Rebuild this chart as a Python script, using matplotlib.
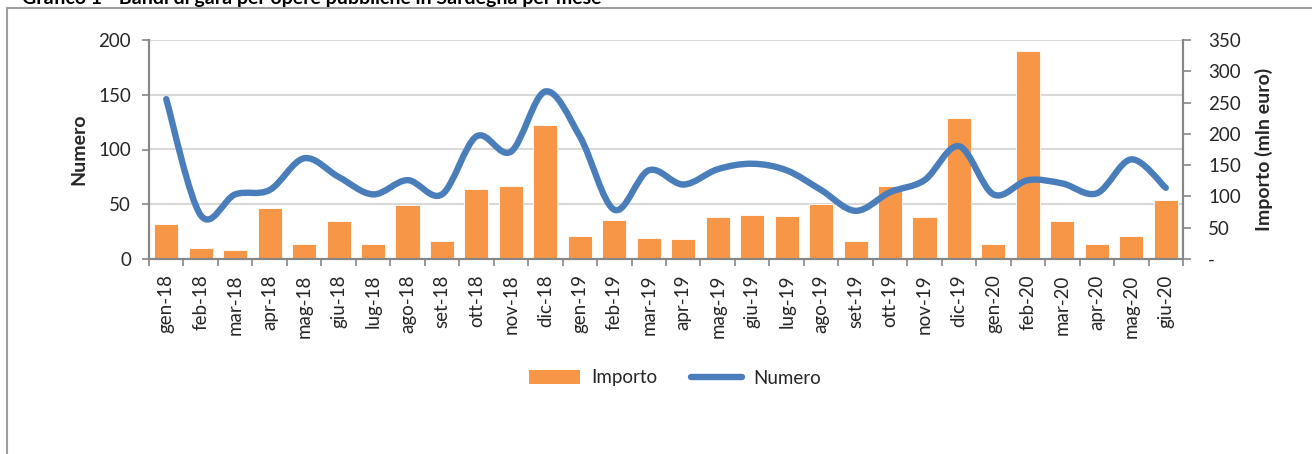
import matplotlib
matplotlib.use("Agg")
import matplotlib.pyplot as plt
from matplotlib.path import Path
from matplotlib.patches import PathPatch, Rectangle
from matplotlib.lines import Line2D
import numpy as np

plt.rcParams['font.family'] = ['Lato', 'DejaVu Sans']

months = ["gen-18", "feb-18", "mar-18", "apr-18", "mag-18", "giu-18", "lug-18", "ago-18",
          "set-18", "ott-18", "nov-18", "dic-18", "gen-19", "feb-19", "mar-19", "apr-19",
          "mag-19", "giu-19", "lug-19", "ago-19", "set-19", "ott-19", "nov-19", "dic-19",
          "gen-20", "feb-20", "mar-20", "apr-20", "mag-20", "giu-20"]
importo = [56, 18, 14, 81, 24, 61, 24, 86, 28, 112, 116, 214,
           36, 63, 34, 32, 67, 71, 69, 88, 28, 116, 67, 225,
           24, 333, 61, 24, 36, 94]
numero = [146, 40, 59, 63, 92, 75, 59, 72, 59, 112, 98, 153,
          112, 45, 81, 68, 82, 87, 81, 63, 44, 61, 72, 103,
          59, 72, 69, 60, 91, 65]
left_ticks = [0, 50, 100, 150, 200]
right_ticks = [0, 50, 100, 150, 200, 250, 300, 350]
right_labels = ["-", "50", "100", "150", "200", "250", "300", "350"]

ORANGE = "#F79646"
BLUE = "#4A7EBB"
GRID = "#D9D9D9"
AX = "#868686"
TXT = "#262626"

fig = plt.figure(figsize=(13.12, 4.54), dpi=100)
ax = fig.add_axes([149/1312, 1-259/454, (1183-149)/1312, (259-40)/454])
ax2 = ax.twinx()

x = np.arange(len(months))

# bars (right axis)
ax2.set_ylim(0, 350)
for v in left_ticks[1:]:
    ax2.axhline(v * 350 / 200, color=GRID, lw=1.5, zorder=0)
ax2.bar(x, importo, width=0.7, color=ORANGE, edgecolor="white", linewidth=0.6, zorder=2)

# smooth line (left axis)
ax.set_ylim(0, 200)
ax.set_zorder(ax2.get_zorder() + 1)
ax.patch.set_visible(False)
pts = np.column_stack([x, numero]).astype(float)
verts = [pts[0]]
codes = [Path.MOVETO]
n = len(pts)
for i in range(n - 1):
    p0 = pts[i - 1] if i > 0 else pts[i]
    p1 = pts[i]
    p2 = pts[i + 1]
    p3 = pts[i + 2] if i + 2 < n else pts[i + 1]
    c1 = p1 + (p2 - p0) / 6.0
    c2 = p2 - (p3 - p1) / 6.0
    verts += [c1, c2, p2]
    codes += [Path.CURVE4] * 3
ax.add_patch(PathPatch(Path(verts, codes), fill=False, edgecolor=BLUE, lw=4.6,
                       capstyle='round', joinstyle='round', zorder=3))

ax.set_xlim(-0.5, len(months) - 0.5)

# x axis ticks
ax.set_xticks(x)
ax.set_xticklabels(months, rotation=90, fontsize=13.5, color=TXT)
ax.tick_params(axis='x', which='major', length=0, pad=11)
ax.set_xticks(np.arange(-0.5, len(months)), minor=True)
ax.tick_params(axis='x', which='minor', length=5, width=1.2, color=AX)

ax.set_yticks(left_ticks)
ax.set_yticklabels([str(t) for t in left_ticks], fontsize=13.5, color=TXT)
ax.tick_params(axis='y', length=5, width=1.2, color=AX, pad=8)
ax2.set_yticks(right_ticks)
ax2.set_yticklabels(right_labels, fontsize=13.5, color=TXT)
ax2.tick_params(axis='y', length=6, width=1.2, color=AX, pad=12)

for a in (ax, ax2):
    a.spines['top'].set_visible(False)
    for s in ('left', 'right', 'bottom'):
        a.spines[s].set_color(AX)
        a.spines[s].set_linewidth(1.5)

ax.set_ylabel("Numero", fontsize=14, fontweight='bold', color=TXT, labelpad=8)
ax2.set_ylabel("Importo (mln euro)", fontsize=14, fontweight='bold', color=TXT, labelpad=10)

# legend
handles = [Rectangle((0, 0), 1, 1, facecolor=ORANGE, edgecolor='none'),
           Line2D([0], [0], color=BLUE, lw=4.6, solid_capstyle='round')]
fig.legend(handles, ["Importo", "Numero"], loc='center', bbox_to_anchor=(675/1312, 1-378/454),
           ncol=2, frameon=False, fontsize=13.5, handlelength=2.7, handleheight=0.8,
           columnspacing=1.8, handletextpad=0.6, labelcolor=TXT)

# frame and clipped title
fig.patches.append(Rectangle((7/1312, -0.1), 1.2, 1 - 8/454 + 0.1, transform=fig.transFigure,
                             fill=False, edgecolor="#A0A0A0", lw=1.5))
fig.text(22/1312, 1 - 4/454, "Grafico 1 - Bandi di gara per opere pubbliche in Sardegna per mese",
         fontsize=14, fontweight='bold', color="#000000", va='baseline', ha='left')

fig.savefig("out.png", dpi=100)
